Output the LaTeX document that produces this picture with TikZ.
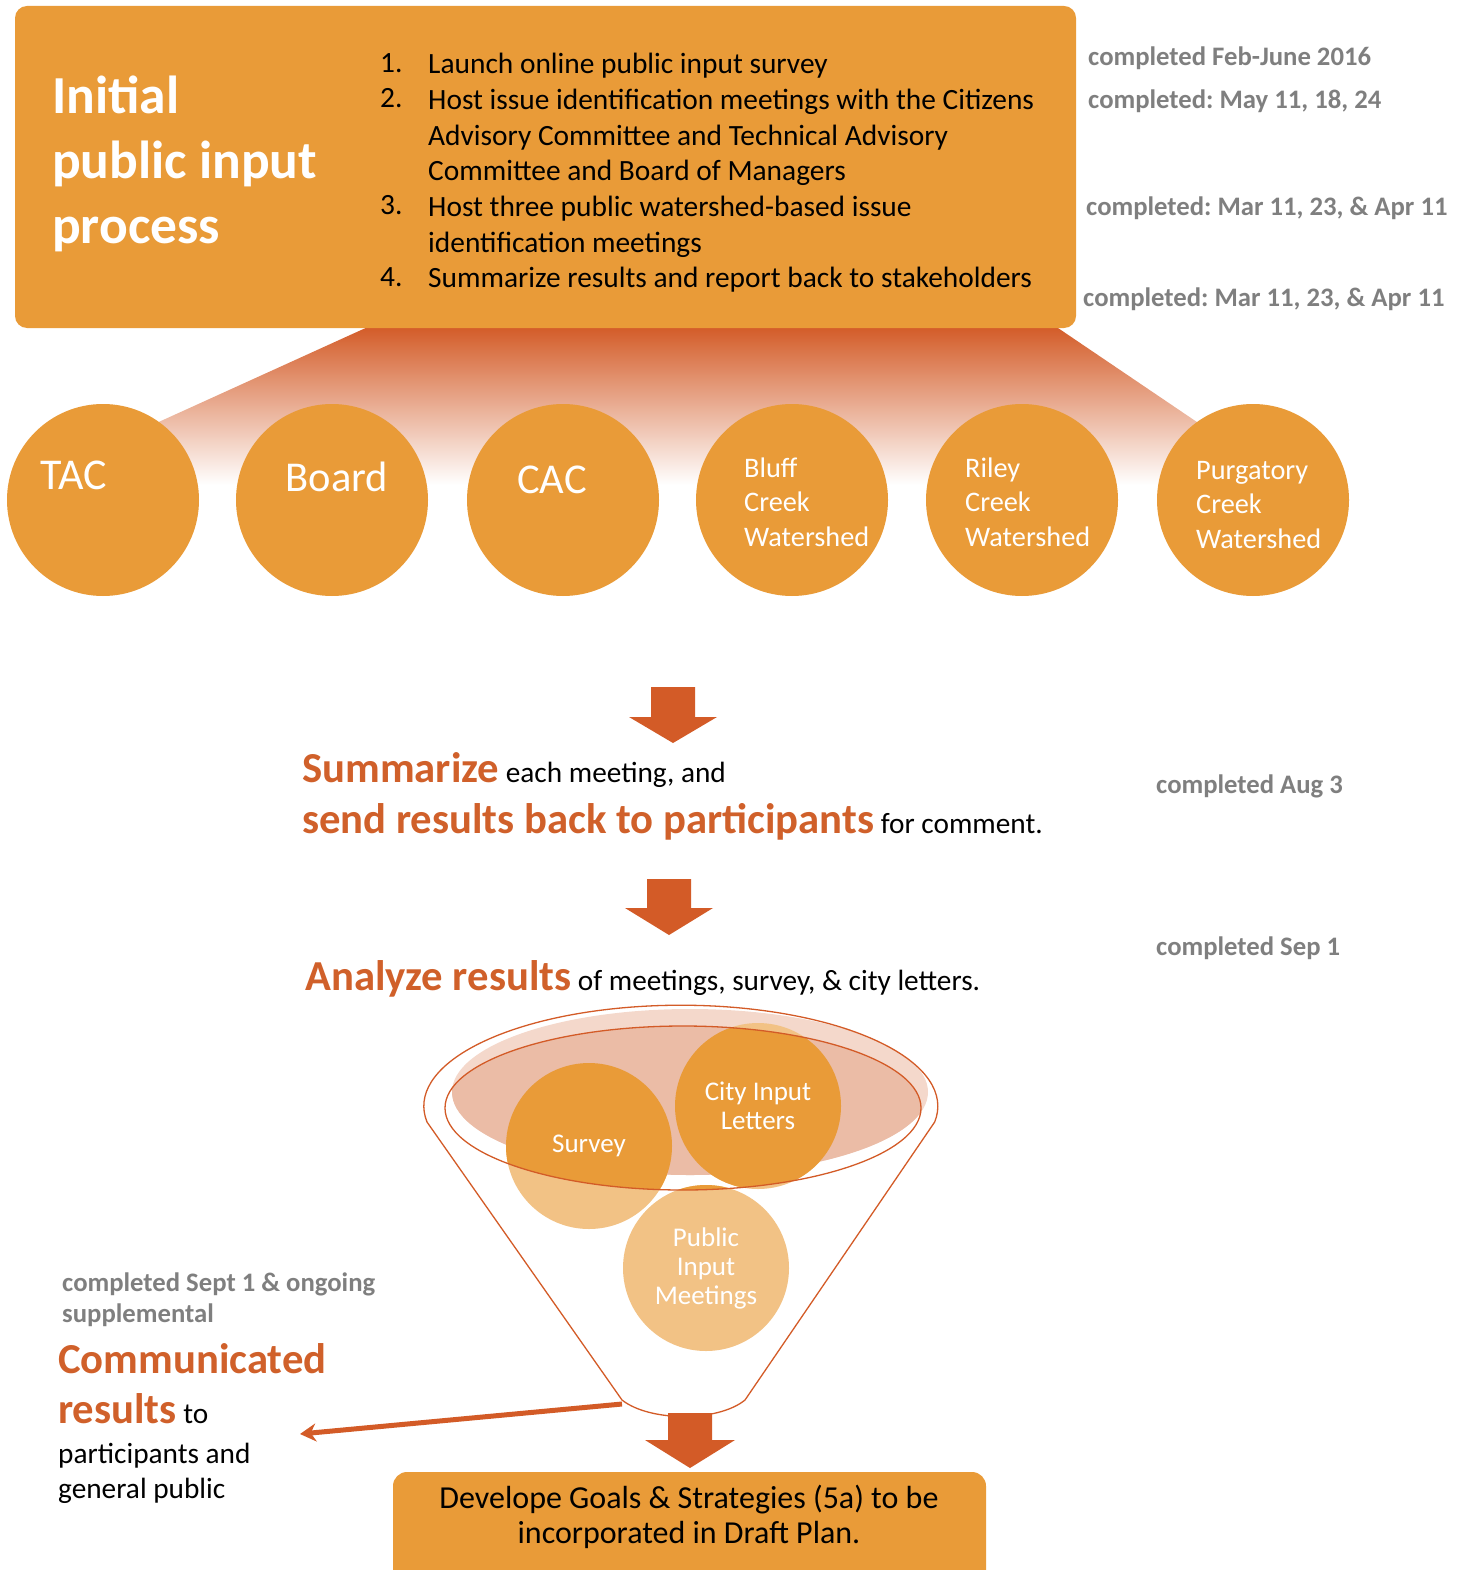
\documentclass[tikz,border=0pt]{standalone}
\usepackage{fontspec}
\setmainfont{Carlito}
\usetikzlibrary{positioning, arrows.meta}
\definecolor{PlanOrange}{HTML}{E99B38}
\definecolor{PlanDeep}{HTML}{D35B27}
\definecolor{PlanText}{HTML}{D0602A}
\definecolor{PlanLight}{HTML}{F2C285}
\definecolor{PlanPink}{HTML}{EBBCA6}
\definecolor{PlanPale}{HTML}{F4D8CB}
\definecolor{NoteGray}{HTML}{7F7F7F}
\newcommand{\keyword}[1]{{\bfseries\fontsize{42.7}{44}\selectfont\color{PlanText}#1}}
\frenchspacing

\begin{document}
\begin{tikzpicture}[x=1pt, y=-1pt,
    note/.style={anchor=west, inner sep=0, text=NoteGray, font=\bfseries\fontsize{26.7}{30}\selectfont},
    bubble/.style={circle, fill=PlanOrange, minimum size=192pt, inner sep=0},
    bubbletext/.style={inner sep=0, text=white, align=left},
    funnelball/.style={circle, minimum size=166pt, inner sep=0, text=white, align=center, font=\fontsize{27}{29}\selectfont},
    body/.style={anchor=base west, inner sep=0, font=\fontsize{29.3}{36}\selectfont}]
\useasboundingbox (0,0) rectangle (1465,1570);

% Header box
\shade[top color=PlanDeep, bottom color=white] (370,326) -- (1055,326) -- (1290,485) -- (20,485) -- cycle;
\fill[PlanOrange, rounded corners=12] (15,6) rectangle (1076,328);
\node[anchor=north west, align=left, inner sep=0, text=white, font=\bfseries\fontsize{53.5}{65}\selectfont] (title) at (52,76) {Initial\\public input\\process};
\node[anchor=north west, align=left, inner sep=0, font=\fontsize{29.4}{35.7}\selectfont] (nums) at (380,53) {1.\\2.\\\mbox{}\\\mbox{}\\3.\\\mbox{}\\4.};
\node[anchor=north west, align=left, inner sep=0, font=\fontsize{29.4}{35.7}\selectfont] (tasks) at (428,53) {Launch online public input survey\\Host issue identification meetings with the Citizens\\Advisory Committee and Technical Advisory\\Committee and Board of Managers\\Host three public watershed-based issue\\identification meetings\\Summarize results and report back to stakeholders};

% Status notes
\node[note] (noteA) at (1088,58) {completed Feb-June 2016};
\node[note] (noteB) at (1088,101) {completed: May 11, 18, 24};
\node[note] (noteC) at (1086,208) {completed: Mar 11, 23, \& Apr 11};
\node[note] (noteD) at (1083,299) {completed: Mar 11, 23, \& Apr 11};

% Groups
\node[bubble] (tac) at (103,500) {};
\node[bubble] (board) at (332,500) {};
\node[bubble] (cac) at (563,500) {};
\node[bubble] (bluff) at (792,500) {};
\node[bubble] (riley) at (1022,500) {};
\node[bubble] (purg) at (1253,500) {};
\node[bubbletext, anchor=west, font=\fontsize{44}{44}\selectfont] (tactext) at (40,475) {TAC};
\node[bubbletext, font=\fontsize{42.5}{44}\selectfont] (boardtext) at (337,477) {Board};
\node[bubbletext, font=\fontsize{42.5}{44}\selectfont] (cactext) at (552,480) {CAC};
\node[bubbletext, anchor=west, font=\fontsize{28.3}{34.5}\selectfont] (blufftext) at (744,502) {Bluff\\Creek\\Watershed};
\node[bubbletext, anchor=west, font=\fontsize{28.3}{34.5}\selectfont] (rileytext) at (965,502) {Riley\\Creek\\Watershed};
\node[bubbletext, anchor=west, font=\fontsize{28.3}{34.5}\selectfont] (purgtext) at (1196,505) {Purgatory\\Creek\\Watershed};

% Step arrows
\coordinate (arrowA) at (673,687);
\coordinate (arrowB) at (669,879);
\coordinate (arrowC) at (690,1413);
\fill[PlanDeep] (arrowA) ++(-22,0) -- ++(44,0) -- ++(0,30) -- ++(22,0) -- ++(-44,26) -- ++(-44,-26) -- ++(22,0) -- cycle;
\fill[PlanDeep] (arrowB) ++(-22,0) -- ++(44,0) -- ++(0,29) -- ++(22,0) -- ++(-44,27) -- ++(-44,-27) -- ++(22,0) -- cycle;
\fill[PlanDeep] (arrowC) ++(-22,0) -- ++(44,0) -- ++(0,27) -- ++(23,0) -- ++(-45,28) -- ++(-45,-28) -- ++(23,0) -- cycle;

% Summary and analysis
\node[body] (summ) at (302,782) {\keyword{Summarize} each meeting, and};
\node[body] (sendback) at (302,833) {\keyword{send results back to participants} for comment.};
\node[note] (noteE) at (1156,786) {completed Aug 3};
\node[note] (noteF) at (1156,948) {completed Sep 1};
\node[body] (analyze) at (305,990) {\keyword{Analyze results} of meetings, survey, \& city letters.};

% Funnel
\fill[PlanPale] (690,1092) ellipse [x radius=238, y radius=83];
\fill[PlanLight] (589,1146) circle (83);
\fill[PlanLight] (758,1106) circle (83);
\fill[PlanLight] (706,1268) circle (83);
\begin{scope}
  \clip (683,1108) ellipse [x radius=238, y radius=82];
  \fill[PlanPink] (690,1092) ellipse [x radius=238, y radius=83];
  \fill[PlanOrange] (589,1146) circle (83);
  \fill[PlanOrange] (758,1106) circle (83);
  \fill[PlanOrange] (706,1268) circle (83);
\end{scope}
\draw[PlanDeep, line width=1.3] (683,1108) ellipse [x radius=238, y radius=82];
\draw[PlanDeep, line width=1.3] (427,1122) arc [start angle=171, end angle=369, x radius=257, y radius=101] -- (745,1400) .. controls (718,1422) and (650,1422) .. (622,1400) -- cycle;
\node[funnelball] (survey) at (589,1146) {Survey};
\node[funnelball] (letters) at (758,1106) {City Input\\Letters};
\node[funnelball] (meetings) at (706,1268) {Public\\Input\\Meetings};

% Communication
\node[note, align=left, font=\bfseries\fontsize{26.7}{31}\selectfont] (noteG) at (62,1300) {completed Sept 1 \& ongoing\\supplemental};
\node[body] (comm) at (58,1373) {\keyword{Communicated}};
\node[body] (commres) at (58,1423) {\keyword{results} to};
\node[body] (commwho) at (58,1463) {participants and};
\node[body] (commpub) at (58,1498) {general public};
\coordinate (funnelout) at (622,1404);
\coordinate (commin) at (300,1434);
\draw[PlanDeep, line width=5, -{Stealth[length=16pt, width=18pt]}] (funnelout) -- (commin);

% Goal box
\fill[PlanOrange, rounded corners=14] (393,1472) rectangle (986,1600);
\node[align=center, inner sep=0, font=\fontsize{32}{35}\selectfont] (goal) at (689,1517) {Develope Goals \& Strategies (5a) to be\\incorporated in Draft Plan.};
\end{tikzpicture}
\end{document}
